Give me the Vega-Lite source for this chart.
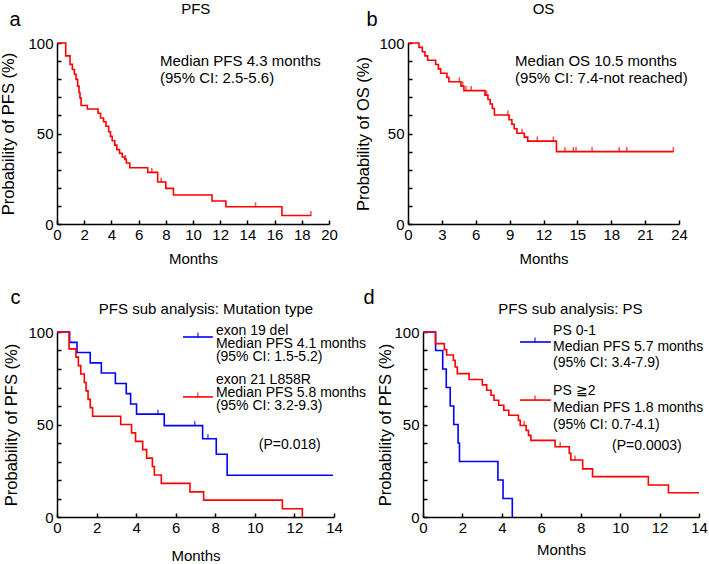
{
"$schema": "https://vega.github.io/schema/vega-lite/v6.json",
"padding": {"left": 0, "top": 1, "right": 0, "bottom": 0},
"spacing": 21,
"datasets": {
"a_curve": [{"t":0,"s":100},{"t":0.64,"s":92.9},{"t":0.96,"s":88.2},{"t":1.13,"s":85.4},{"t":1.28,"s":82.7},{"t":1.4,"s":79.9},{"t":1.52,"s":76.2},{"t":1.62,"s":72.5},{"t":1.69,"s":69.7},{"t":1.77,"s":65.5},{"t":2.23,"s":63.5},{"t":3.02,"s":61.2},{"t":3.2,"s":58.6},{"t":3.42,"s":56.5},{"t":3.6,"s":54.0},{"t":3.8,"s":51.0},{"t":3.93,"s":48.4},{"t":4.06,"s":46.0},{"t":4.25,"s":43.6},{"t":4.4,"s":41.1},{"t":4.6,"s":39.0},{"t":4.8,"s":37.0},{"t":4.98,"s":35.7},{"t":5.1,"s":33.7},{"t":5.35,"s":31.1},{"t":6.67,"s":28.5},{"t":7.4,"s":23.2},{"t":8.0,"s":19.7},{"t":8.56,"s":16.0},{"t":11.4,"s":12.7},{"t":12.42,"s":9.5},{"t":16.54,"s":4.7},{"t":18.67,"s":4.7}],
"a_cens": [{"t":5.03,"s":35.7},{"t":6.97,"s":28.5},{"t":7.66,"s":23.2},{"t":14.6,"s":9.5},{"t":18.67,"s":4.7}],
"b_curve": [{"t":0,"s":100},{"t":0.97,"s":97.6},{"t":1.27,"s":95.2},{"t":1.5,"s":92.9},{"t":1.74,"s":90.5},{"t":2.45,"s":88.1},{"t":2.69,"s":85.7},{"t":2.89,"s":83.3},{"t":3.45,"s":81.0},{"t":3.62,"s":78.6},{"t":4.69,"s":76.2},{"t":4.95,"s":73.7},{"t":6.82,"s":71.2},{"t":7.08,"s":68.8},{"t":7.28,"s":66.3},{"t":7.47,"s":63.8},{"t":7.65,"s":60.2},{"t":8.95,"s":57.6},{"t":9.2,"s":55.1},{"t":9.4,"s":52.6},{"t":9.65,"s":50.1},{"t":10.3,"s":48.0},{"t":10.6,"s":45.8},{"t":13.15,"s":40.0},{"t":23.5,"s":40.0}],
"b_cens": [{"t":4.55,"s":78.6},{"t":4.85,"s":76.2},{"t":5.14,"s":73.7},{"t":5.6,"s":73.7},{"t":6.96,"s":71.2},{"t":8.85,"s":60.2},{"t":10.1,"s":50.1},{"t":11.45,"s":45.8},{"t":12.87,"s":45.8},{"t":13.9,"s":40},{"t":14.64,"s":40},{"t":14.88,"s":40},{"t":16.3,"s":40},{"t":18.7,"s":40},{"t":19.37,"s":40},{"t":23.5,"s":40}],
"c_curve": [
{"g":"exon 19 del","t":0,"s":100},{"g":"exon 19 del","t":0.64,"s":94.4},{"g":"exon 19 del","t":1.01,"s":88.9},{"g":"exon 19 del","t":1.68,"s":83.3},{"g":"exon 19 del","t":2.24,"s":77.8},{"g":"exon 19 del","t":2.95,"s":72.2},{"g":"exon 19 del","t":3.5,"s":66.7},{"g":"exon 19 del","t":3.72,"s":61.1},{"g":"exon 19 del","t":4.02,"s":55.6},{"g":"exon 19 del","t":5.42,"s":49.4},{"g":"exon 19 del","t":7.36,"s":42.3},{"g":"exon 19 del","t":8.05,"s":33.9},{"g":"exon 19 del","t":8.6,"s":22.6},{"g":"exon 19 del","t":13.95,"s":22.6},
{"g":"exon 21 L858R","t":0,"s":100},{"g":"exon 21 L858R","t":0.61,"s":90.9},{"g":"exon 21 L858R","t":0.96,"s":86.4},{"g":"exon 21 L858R","t":1.08,"s":81.8},{"g":"exon 21 L858R","t":1.2,"s":77.3},{"g":"exon 21 L858R","t":1.38,"s":72.7},{"g":"exon 21 L858R","t":1.47,"s":68.2},{"g":"exon 21 L858R","t":1.57,"s":63.6},{"g":"exon 21 L858R","t":1.68,"s":59.1},{"g":"exon 21 L858R","t":1.8,"s":54.5},{"g":"exon 21 L858R","t":3.22,"s":50.0},{"g":"exon 21 L858R","t":3.77,"s":45.5},{"g":"exon 21 L858R","t":3.97,"s":40.9},{"g":"exon 21 L858R","t":4.33,"s":36.4},{"g":"exon 21 L858R","t":4.53,"s":31.8},{"g":"exon 21 L858R","t":4.82,"s":27.3},{"g":"exon 21 L858R","t":4.92,"s":22.7},{"g":"exon 21 L858R","t":5.27,"s":18.2},{"g":"exon 21 L858R","t":6.72,"s":13.6},{"g":"exon 21 L858R","t":7.41,"s":9.1},{"g":"exon 21 L858R","t":11.39,"s":4.5},{"g":"exon 21 L858R","t":12.4,"s":0}],
"c_cens": [{"g":"exon 19 del","t":5.1,"s":55.6},{"g":"exon 19 del","t":6.96,"s":49.4},{"g":"exon 19 del","t":7.63,"s":42.3}],
"d_curve": [
{"g":"PS 0-1","t":0,"s":100},{"g":"PS 0-1","t":0.64,"s":90},{"g":"PS 0-1","t":1.0,"s":80},{"g":"PS 0-1","t":1.18,"s":70},{"g":"PS 0-1","t":1.38,"s":60},{"g":"PS 0-1","t":1.56,"s":50},{"g":"PS 0-1","t":1.78,"s":40},{"g":"PS 0-1","t":1.85,"s":30},{"g":"PS 0-1","t":3.8,"s":20},{"g":"PS 0-1","t":4.06,"s":10},{"g":"PS 0-1","t":4.53,"s":0},
{"g":"PS 2+","t":0,"s":100},{"g":"PS 2+","t":0.63,"s":93.7},{"g":"PS 2+","t":1.08,"s":90.5},{"g":"PS 2+","t":1.2,"s":87.6},{"g":"PS 2+","t":1.54,"s":84.7},{"g":"PS 2+","t":1.63,"s":81.1},{"g":"PS 2+","t":1.74,"s":77.5},{"g":"PS 2+","t":2.34,"s":74.3},{"g":"PS 2+","t":3.01,"s":71.4},{"g":"PS 2+","t":3.23,"s":68.5},{"g":"PS 2+","t":3.45,"s":65.8},{"g":"PS 2+","t":3.6,"s":63.1},{"g":"PS 2+","t":3.84,"s":60.4},{"g":"PS 2+","t":4.1,"s":57.7},{"g":"PS 2+","t":4.35,"s":55.0},{"g":"PS 2+","t":4.84,"s":52.3},{"g":"PS 2+","t":4.93,"s":49.5},{"g":"PS 2+","t":5.23,"s":46.8},{"g":"PS 2+","t":5.35,"s":44.1},{"g":"PS 2+","t":5.47,"s":41.4},{"g":"PS 2+","t":6.7,"s":38.0},{"g":"PS 2+","t":7.42,"s":34.5},{"g":"PS 2+","t":7.5,"s":30.8},{"g":"PS 2+","t":8.1,"s":26.0},{"g":"PS 2+","t":8.6,"s":21.8},{"g":"PS 2+","t":11.43,"s":17.3},{"g":"PS 2+","t":12.45,"s":13.1},{"g":"PS 2+","t":14.0,"s":13.1}],
"d_cens": [{"g":"PS 2+","t":5.13,"s":49.5},{"g":"PS 2+","t":6.96,"s":38.0},{"g":"PS 2+","t":7.71,"s":30.8}]
},
"vconcat": [
{"spacing": 17, "hconcat": [
{"width": 272, "height": 181, "layer": [
 {"data": {"name": "a_curve"}, "mark": {"type": "line", "interpolate": "step-after", "color": "#ff0000", "strokeWidth": 1.6},
  "encoding": {"x": {"field": "t", "type": "quantitative", "scale": {"domain": [0, 20]}, "axis": {"title": "Months", "format": "d", "tickCount": 100, "labelOverlap": false, "titlePadding": 9, "values": [0,2,4,6,8,10,12,14,16,18,20]}},
   "y": {"field": "s", "type": "quantitative", "scale": {"domain": [0, 100]}, "axis": {"title": "Probability of PFS (%)", "format": "d", "tickCount": 100, "labelOverlap": false, "titlePadding": 11, "values": [0,10,20,30,40,50,60,70,80,90,100], "labelExpr": "datum.value % 50 === 0 ? datum.label : ''"}}}},
 {"data": {"name": "a_cens"}, "mark": {"type": "tick", "orient": "vertical", "color": "#ff0000", "size": 5, "thickness": 1.5, "yOffset": -2},
  "encoding": {"x": {"field": "t", "type": "quantitative"}, "y": {"field": "s", "type": "quantitative"}}},
 {"data": {"values": [{}]}, "mark": {"type": "text", "align": "center", "baseline": "middle", "fontSize": 15},
  "encoding": {"x": {"datum": 10.2}, "y": {"datum": 118.8}, "text": {"value": "PFS"}}},
 {"data": {"values": [{}]}, "mark": {"type": "text", "align": "center", "baseline": "middle", "fontSize": 20},
  "encoding": {"x": {"datum": -3.09}, "y": {"datum": 112.7}, "text": {"value": "a"}}},
 {"data": {"values": [{}]}, "mark": {"type": "text", "align": "left", "baseline": "alphabetic", "fontSize": 15, "lineHeight": 17},
  "encoding": {"x": {"datum": 7.57}, "y": {"datum": 87.1}, "text": {"value": ["Median PFS 4.3 months", "(95% CI: 2.5-5.6)"]}}}
]},
{"width": 271, "height": 181, "layer": [
 {"data": {"name": "b_curve"}, "mark": {"type": "line", "interpolate": "step-after", "color": "#ff0000", "strokeWidth": 1.6},
  "encoding": {"x": {"field": "t", "type": "quantitative", "scale": {"domain": [0, 24]}, "axis": {"title": "Months", "format": "d", "tickCount": 100, "labelOverlap": false, "titlePadding": 9, "values": [0,3,6,9,12,15,18,21,24]}},
   "y": {"field": "s", "type": "quantitative", "scale": {"domain": [0, 100]}, "axis": {"title": "Probability of OS (%)", "format": "d", "tickCount": 100, "labelOverlap": false, "titlePadding": 7, "values": [0,10,20,30,40,50,60,70,80,90,100], "labelExpr": "datum.value % 50 === 0 ? datum.label : ''"}}}},
 {"data": {"name": "b_cens"}, "mark": {"type": "tick", "orient": "vertical", "color": "#ff0000", "size": 5, "thickness": 1.5, "yOffset": -2},
  "encoding": {"x": {"field": "t", "type": "quantitative"}, "y": {"field": "s", "type": "quantitative"}}},
 {"data": {"values": [{}]}, "mark": {"type": "text", "align": "center", "baseline": "middle", "fontSize": 15},
  "encoding": {"x": {"datum": 12}, "y": {"datum": 118.8}, "text": {"value": "OS"}}},
 {"data": {"values": [{}]}, "mark": {"type": "text", "align": "center", "baseline": "middle", "fontSize": 20},
  "encoding": {"x": {"datum": -3.19}, "y": {"datum": 112.7}, "text": {"value": "b"}}},
 {"data": {"values": [{}]}, "mark": {"type": "text", "align": "left", "baseline": "alphabetic", "fontSize": 15, "lineHeight": 17},
  "encoding": {"x": {"datum": 9.48}, "y": {"datum": 87.1}, "text": {"value": ["Median OS 10.5 months", "(95% CI: 7.4-not reached)"]}}}
]}
]},
{"spacing": -4, "hconcat": [
{"width": 277, "height": 185, "layer": [
 {"data": {"name": "c_curve"}, "mark": {"type": "line", "interpolate": "step-after", "strokeWidth": 1.6},
  "encoding": {"x": {"field": "t", "type": "quantitative", "scale": {"domain": [0, 14]}, "axis": {"title": "Months", "format": "d", "tickCount": 100, "labelOverlap": false, "titlePadding": 13, "values": [0,2,4,6,8,10,12,14]}},
   "y": {"field": "s", "type": "quantitative", "scale": {"domain": [0, 100]}, "axis": {"title": "Probability of PFS (%)", "format": "d", "tickCount": 100, "labelOverlap": false, "titlePadding": 8, "values": [0,10,20,30,40,50,60,70,80,90,100], "labelExpr": "datum.value % 50 === 0 ? datum.label : ''"}},
   "color": {"field": "g", "type": "nominal", "scale": {"domain": ["exon 19 del", "exon 21 L858R"], "range": ["#0000ff", "#ff0000"]}, "legend": null}}},
 {"data": {"name": "c_cens"}, "mark": {"type": "tick", "orient": "vertical", "size": 5, "thickness": 1.5, "yOffset": -2},
  "encoding": {"x": {"field": "t", "type": "quantitative"}, "y": {"field": "s", "type": "quantitative"},
   "color": {"field": "g", "type": "nominal", "scale": {"domain": ["exon 19 del", "exon 21 L858R"], "range": ["#0000ff", "#ff0000"]}, "legend": null}}},
 {"data": {"values": [{}]}, "mark": {"type": "text", "align": "center", "baseline": "middle", "fontSize": 15},
  "encoding": {"x": {"datum": 7.53}, "y": {"datum": 112.4}, "text": {"value": "PFS sub analysis: Mutation type"}}},
 {"data": {"values": [{}]}, "mark": {"type": "text", "align": "center", "baseline": "middle", "fontSize": 20},
  "encoding": {"x": {"datum": -2.1}, "y": {"datum": 118.4}, "text": {"value": "c"}}},
 {"data": {"values": [{}]}, "mark": {"type": "rule", "color": "#0000ff", "strokeWidth": 1.6},
  "encoding": {"x": {"datum": 6.37}, "x2": {"datum": 7.88}, "y": {"datum": 97.3}}},
 {"data": {"values": [{}]}, "mark": {"type": "tick", "orient": "vertical", "color": "#0000ff", "size": 5, "thickness": 1.5, "yOffset": -2},
  "encoding": {"x": {"datum": 7.12}, "y": {"datum": 97.3}}},
 {"data": {"values": [{}]}, "mark": {"type": "rule", "color": "#ff0000", "strokeWidth": 1.6},
  "encoding": {"x": {"datum": 6.37}, "x2": {"datum": 7.88}, "y": {"datum": 64.9}}},
 {"data": {"values": [{}]}, "mark": {"type": "tick", "orient": "vertical", "color": "#ff0000", "size": 5, "thickness": 1.5, "yOffset": -2},
  "encoding": {"x": {"datum": 7.12}, "y": {"datum": 64.9}}},
 {"data": {"values": [{}]}, "mark": {"type": "text", "align": "left", "baseline": "alphabetic", "fontSize": 14, "lineHeight": 13},
  "encoding": {"x": {"datum": 8.03}, "y": {"datum": 98.6}, "text": {"value": ["exon 19 del", "Median PFS 4.1 months", "(95% CI: 1.5-5.2)"]}}},
 {"data": {"values": [{}]}, "mark": {"type": "text", "align": "left", "baseline": "alphabetic", "fontSize": 14, "lineHeight": 13},
  "encoding": {"x": {"datum": 8.03}, "y": {"datum": 71.9}, "text": {"value": ["exon 21 L858R", "Median PFS 5.8 months", "(95% CI: 3.2-9.3)"]}}},
 {"data": {"values": [{}]}, "mark": {"type": "text", "align": "left", "baseline": "alphabetic", "fontSize": 14},
  "encoding": {"x": {"datum": 10.2}, "y": {"datum": 37.0}, "text": {"value": "(P=0.018)"}}}
]},
{"width": 276, "height": 185, "layer": [
 {"data": {"name": "d_curve"}, "mark": {"type": "line", "interpolate": "step-after", "strokeWidth": 1.6},
  "encoding": {"x": {"field": "t", "type": "quantitative", "scale": {"domain": [0, 14]}, "axis": {"title": "Months", "format": "d", "tickCount": 100, "labelOverlap": false, "titlePadding": 7, "values": [0,2,4,6,8,10,12,14]}},
   "y": {"field": "s", "type": "quantitative", "scale": {"domain": [0, 100]}, "axis": {"title": "Probability of PFS (%)", "format": "d", "tickCount": 100, "labelOverlap": false, "titlePadding": 0, "values": [0,10,20,30,40,50,60,70,80,90,100], "labelExpr": "datum.value % 50 === 0 ? datum.label : ''"}},
   "color": {"field": "g", "type": "nominal", "scale": {"domain": ["PS 0-1", "PS 2+"], "range": ["#0000ff", "#ff0000"]}, "legend": null}}},
 {"data": {"name": "d_cens"}, "mark": {"type": "tick", "orient": "vertical", "size": 5, "thickness": 1.5, "yOffset": -2},
  "encoding": {"x": {"field": "t", "type": "quantitative"}, "y": {"field": "s", "type": "quantitative"},
   "color": {"field": "g", "type": "nominal", "scale": {"domain": ["PS 0-1", "PS 2+"], "range": ["#0000ff", "#ff0000"]}, "legend": null}}},
 {"data": {"values": [{}]}, "mark": {"type": "text", "align": "center", "baseline": "middle", "fontSize": 15},
  "encoding": {"x": {"datum": 7.48}, "y": {"datum": 112.4}, "text": {"value": "PFS sub analysis: PS"}}},
 {"data": {"values": [{}]}, "mark": {"type": "text", "align": "center", "baseline": "middle", "fontSize": 20},
  "encoding": {"x": {"datum": -2.74}, "y": {"datum": 118.4}, "text": {"value": "d"}}},
 {"data": {"values": [{}]}, "mark": {"type": "rule", "color": "#0000ff", "strokeWidth": 1.6},
  "encoding": {"x": {"datum": 4.92}, "x2": {"datum": 6.49}, "y": {"datum": 94.6}}},
 {"data": {"values": [{}]}, "mark": {"type": "tick", "orient": "vertical", "color": "#0000ff", "size": 5, "thickness": 1.5, "yOffset": -2},
  "encoding": {"x": {"datum": 5.68}, "y": {"datum": 94.6}}},
 {"data": {"values": [{}]}, "mark": {"type": "rule", "color": "#ff0000", "strokeWidth": 1.6},
  "encoding": {"x": {"datum": 4.92}, "x2": {"datum": 6.49}, "y": {"datum": 63.2}}},
 {"data": {"values": [{}]}, "mark": {"type": "tick", "orient": "vertical", "color": "#ff0000", "size": 5, "thickness": 1.5, "yOffset": -2},
  "encoding": {"x": {"datum": 5.68}, "y": {"datum": 63.2}}},
 {"data": {"values": [{}]}, "mark": {"type": "text", "align": "left", "baseline": "alphabetic", "fontSize": 14, "lineHeight": 16},
  "encoding": {"x": {"datum": 6.6}, "y": {"datum": 98.5}, "text": {"value": ["PS 0-1", "Median PFS 5.7 months", "(95% CI: 3.4-7.9)"]}}},
 {"data": {"values": [{}]}, "mark": {"type": "text", "align": "left", "baseline": "alphabetic", "fontSize": 14, "lineHeight": 17},
  "encoding": {"x": {"datum": 6.6}, "y": {"datum": 65.9}, "text": {"value": ["PS ≧2", "Median PFS 1.8 months", "(95% CI: 0.7-4.1)"]}}},
 {"data": {"values": [{}]}, "mark": {"type": "text", "align": "left", "baseline": "alphabetic", "fontSize": 14},
  "encoding": {"x": {"datum": 9.59}, "y": {"datum": 36.4}, "text": {"value": "(P=0.0003)"}}}
]}
]}
],
"config": {
 "view": {"stroke": null},
 "font": "Liberation Sans",
 "axis": {"grid": false, "domainColor": "#000000", "domainWidth": 1.5, "tickColor": "#000000", "tickWidth": 1.5, "tickSize": -4, "labelColor": "#000000", "labelFontSize": 15, "labelFont": "Liberation Sans", "titleFont": "Liberation Sans", "titleColor": "#000000", "titleFontWeight": "normal", "labelFlush": false, "labelOverlap": false},
 "axisX": {"titleFontSize": 15, "labelPadding": 7},
 "axisY": {"titleFontSize": 16.5, "labelPadding": 8},
 "text": {"font": "Liberation Sans", "color": "#000000"}
}
}
